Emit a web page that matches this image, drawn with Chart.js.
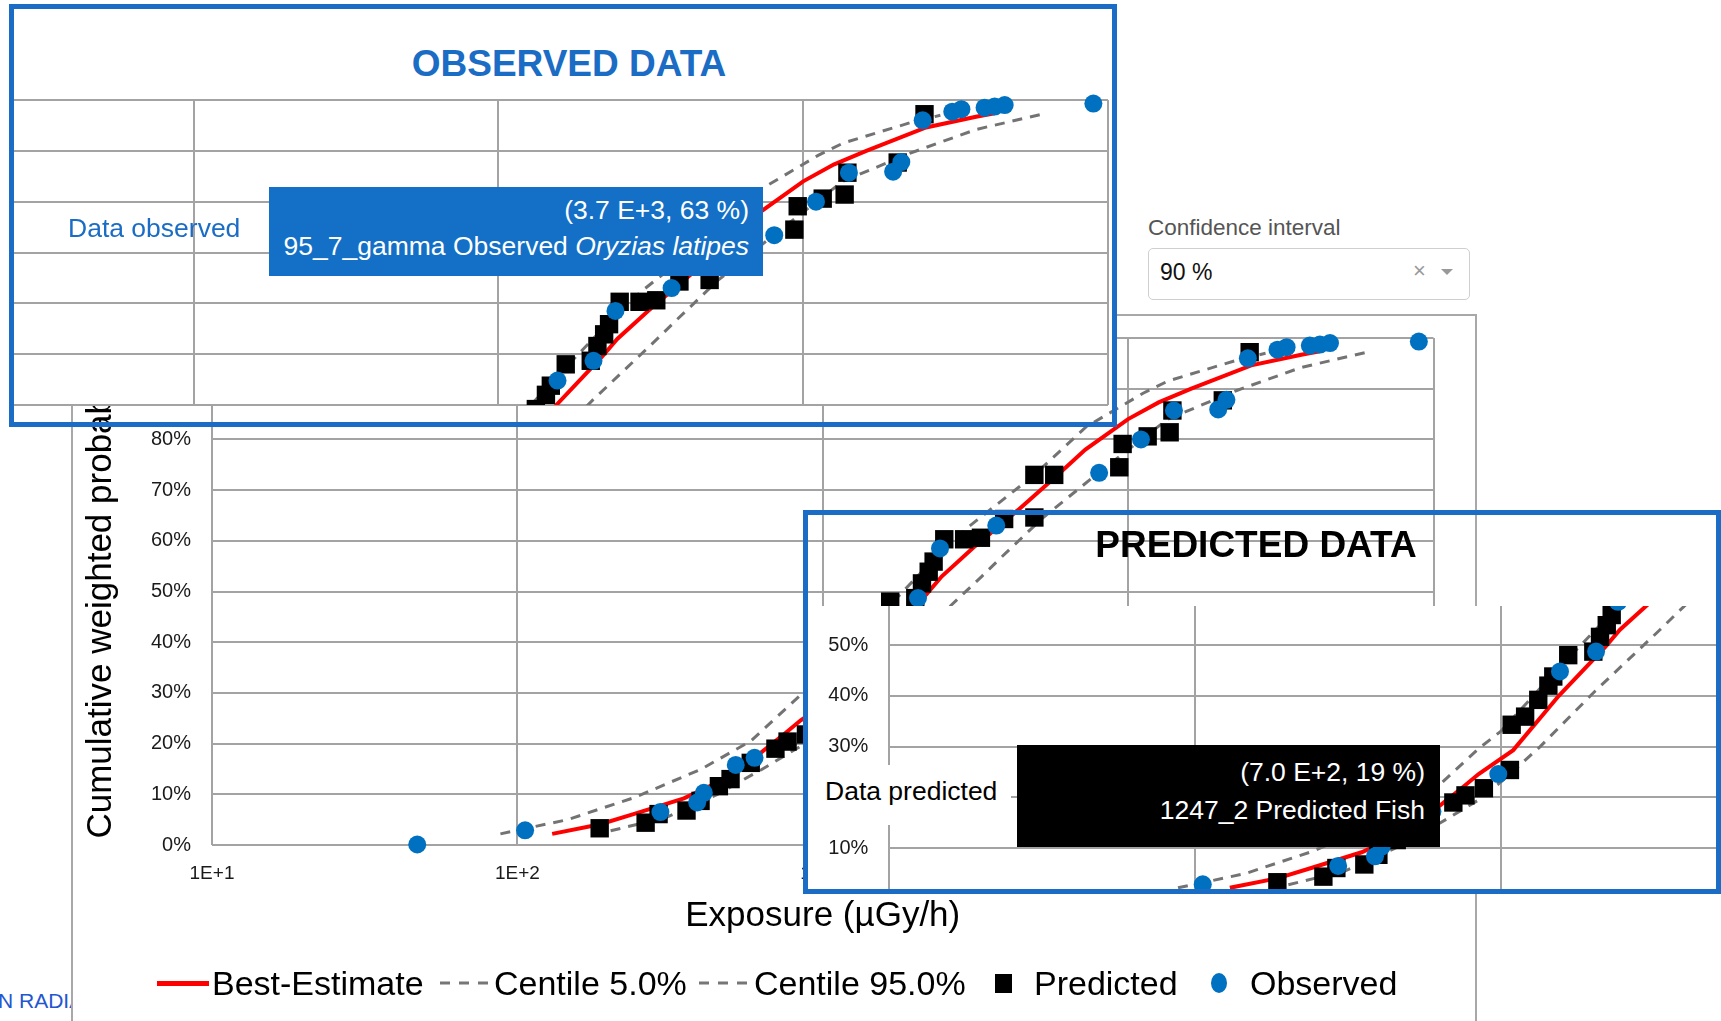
<!DOCTYPE html>
<html>
<head>
<meta charset="utf-8">
<script src="https://cdn.jsdelivr.net/npm/chart.js@4.4.1/dist/chart.umd.min.js"></script>
<style>
  html, body { margin: 0; padding: 0; background: #ffffff; }
  body { width: 1721px; height: 1021px; position: relative; overflow: hidden;
         font-family: "Liberation Sans", Arial, Helvetica, sans-serif; }
  .abs { position: absolute; }
  .t { position: absolute; white-space: nowrap; }
  canvas { position: absolute; }
</style>
</head>
<body>

<!-- fragment of page text at the far left -->
<div class="t" style="left:-2px;top:989px;font-size:21px;line-height:24px;color:#2356d0;z-index:0">N RADIATION</div>

<!-- main chart frame -->
<div class="abs" style="left:71px;top:314px;width:1406px;height:760px;border:2px solid #a8a8a8;box-sizing:border-box;background:#fff;z-index:1"></div>
<canvas id="mainChart" width="1404" height="706" style="left:72px;top:315px;z-index:2"></canvas>

<!-- legend (HTML) -->
<div class="abs" style="left:157px;top:981px;width:52px;height:5px;background:#ff0000;z-index:3"></div>
<div class="t" style="left:212px;top:963px;font-size:34px;line-height:40px;color:#000;z-index:3">Best-Estimate</div>
<svg class="abs" style="left:440px;top:980px;z-index:3" width="48" height="6"><line x1="0" y1="3" x2="48" y2="3" stroke="#767676" stroke-width="3" stroke-dasharray="10 9"/></svg>
<div class="t" style="left:494px;top:963px;font-size:34px;line-height:40px;color:#000;z-index:3">Centile 5.0%</div>
<svg class="abs" style="left:699px;top:980px;z-index:3" width="50" height="6"><line x1="0" y1="3" x2="50" y2="3" stroke="#767676" stroke-width="3" stroke-dasharray="10 9"/></svg>
<div class="t" style="left:754px;top:963px;font-size:34px;line-height:40px;color:#000;z-index:3">Centile 95.0%</div>
<div class="abs" style="left:995px;top:974px;width:17px;height:19px;background:#000;z-index:3"></div>
<div class="t" style="left:1034px;top:963px;font-size:34px;line-height:40px;color:#000;z-index:3">Predicted</div>
<div class="abs" style="left:1211px;top:973px;width:16px;height:20px;border-radius:50%;background:#0070c0;z-index:3"></div>
<div class="t" style="left:1250px;top:963px;font-size:34px;line-height:40px;color:#000;z-index:3">Observed</div>

<!-- confidence interval selector -->
<div class="t" style="left:1148px;top:214px;font-size:22.5px;line-height:28px;color:#555;z-index:3">Confidence interval</div>
<div class="abs" style="left:1148px;top:248px;width:322px;height:52px;border:1px solid #cfcfcf;border-radius:5px;box-sizing:border-box;background:#fff;z-index:3"></div>
<div class="t" style="left:1160px;top:258px;font-size:23px;line-height:28px;color:#111;z-index:4">90 %</div>
<div class="t" style="left:1413px;top:258px;font-size:22px;line-height:26px;color:#999;z-index:4">×</div>
<div class="abs" style="left:1441px;top:269px;width:0;height:0;border-left:6px solid transparent;border-right:6px solid transparent;border-top:6px solid #999;z-index:4"></div>

<!-- OBSERVED inset -->
<div class="abs" style="left:14px;top:9px;width:1098px;height:396px;background:#fff;z-index:5"></div>
<canvas id="obsChart" width="1098" height="317" style="left:14px;top:90px;z-index:6"></canvas>
<div class="t" style="left:569px;top:42px;transform:translateX(-50%);font-weight:bold;font-size:37px;line-height:44px;color:#1a6cc4;z-index:7">OBSERVED DATA</div>
<div class="t" style="left:68px;top:213px;font-size:26.5px;line-height:30px;color:#1a6cc4;z-index:7">Data observed</div>
<div class="abs" style="left:269px;top:187px;width:494px;height:89px;background:#1370c6;z-index:7">
  <div class="t" style="right:14px;top:8px;font-size:26.5px;line-height:30px;color:#fff">(3.7 E+3, 63 %)</div>
  <div class="t" style="right:14px;top:44px;font-size:26.5px;line-height:30px;color:#fff">95_7_gamma Observed <i>Oryzias latipes</i></div>
</div>
<div class="abs" style="left:9px;top:4px;width:1108px;height:423px;border:5px solid #1a6cc4;box-sizing:border-box;z-index:8"></div>

<!-- PREDICTED inset -->
<div class="abs" style="left:808px;top:606px;width:908px;height:283px;background:#fff;z-index:5"></div>
<canvas id="predChart" width="908" height="283" style="left:808px;top:606px;z-index:6"></canvas>
<div class="t" style="left:1256px;top:523px;transform:translateX(-50%);font-weight:bold;font-size:37px;line-height:44px;color:#000;z-index:7">PREDICTED DATA</div>
<div class="abs" style="left:808px;top:765px;width:203px;height:60px;background:#fff;z-index:7">
  <div class="t" style="left:17px;top:11px;font-size:26.5px;line-height:30px;color:#000">Data predicted</div>
</div>
<div class="abs" style="left:1017px;top:745px;width:423px;height:102px;background:#000;z-index:7">
  <div class="t" style="right:15px;top:12px;font-size:26.5px;line-height:30px;color:#fff">(7.0 E+2, 19 %)</div>
  <div class="t" style="right:15px;top:50px;font-size:26.5px;line-height:30px;color:#fff">1247_2 Predicted Fish</div>
</div>
<div class="abs" style="left:803px;top:510px;width:918px;height:384px;border:5px solid #1a6cc4;box-sizing:border-box;z-index:8"></div>

<script>
// ---------------- data (exposure in µGy/h, cumulative weighted probability in %) ----------------
const observedX = [47, 106, 294, 388, 408, 519, 598, 982, 1563, 2051, 2421, 3700, 8035, 11015, 14125, 19724, 20989, 24660, 30832, 33037, 39355, 42462, 45814, 89536];
const observedY = [0.1, 2.9, 6.5, 8.4, 10.3, 15.8, 17.2, 24.6, 44.8, 48.7, 58.5, 63.0, 73.4, 80.0, 85.7, 85.9, 87.8, 96.0, 97.7, 98.2, 98.5, 98.7, 99.0, 99.3];

const predictedX = [186, 263, 290, 358, 398, 457, 499, 581, 700, 767, 881, 1072, 1086, 1202, 1327, 1432, 1486, 1663, 2009, 2113, 2223, 2307, 2500, 2904, 3296, 3926, 4932, 4932, 5728, 9354, 9594, 11588, 13677, 13964, 20417, 25003];
const predictedY = [3.3, 4.4, 6.1, 6.8, 8.7, 11.6, 13.0, 16.2, 19.0, 20.4, 21.8, 25.4, 34.3, 35.9, 39.2, 42.0, 43.8, 48.0, 48.7, 51.6, 53.9, 55.9, 60.3, 60.3, 60.6, 64.3, 64.6, 73.0, 73.0, 74.5, 79.1, 80.6, 81.4, 85.7, 87.7, 97.2];

const bestX = [130, 187, 240, 351, 452, 581, 755, 847, 1099, 1549, 2188, 2455, 3162, 4345, 5754, 7244, 10000, 12589, 16106, 25293, 36898, 42462];
const bestY = [2.2, 4.1, 6.1, 9.2, 12.3, 16.6, 22.1, 24.6, 29.3, 40, 49.5, 53, 59, 66, 72.5, 78, 84, 87.3, 90, 94.6, 96.7, 97.4];

const c5X = [88, 146, 240, 398, 581, 847, 1000, 1524, 2455, 2979, 4932, 7295, 11194, 13490, 22336, 28184];
const c5Y = [2.2, 5.0, 9.3, 14.9, 20.5, 29.6, 33, 45, 58, 62.6, 73, 82.5, 89.1, 91.5, 95.5, 97];

const c95X = [202, 309, 452, 631, 847, 1047, 1346, 2042, 3319, 3837, 5248, 8147, 13490, 22336, 36898, 62661];
const c95Y = [2.8, 5.5, 10, 14.9, 19.5, 24, 30, 41, 53, 56.7, 64.5, 73.8, 84, 89.5, 94.2, 97.4];

const xTickValues = [10, 100, 1000, 10000, 100000];
const yTickValues = [0, 10, 20, 30, 40, 50, 60, 70, 80, 90, 100];

// ---------------- helpers ----------------
const FAMILY = "'Liberation Sans', Arial, Helvetica, sans-serif";
const GRID = '#a3a3a3';
const TICK = '#1a1a1a';
Chart.defaults.font.family = FAMILY;

function pts(xs, ys) { return xs.map((x, i) => ({ x: x, y: ys[i] })); }

function buildDatasets(clip) {
  return [
    { label: 'Best-Estimate', data: pts(bestX, bestY), showLine: true, borderColor: '#ff0000', backgroundColor: '#ff0000',
      borderWidth: 4, pointRadius: 0, fill: false, order: 3, clip: clip },
    { label: 'Centile 5.0%', data: pts(c5X, c5Y), showLine: true, borderColor: '#737373', backgroundColor: '#737373',
      borderWidth: 3, borderDash: [10, 8], pointRadius: 0, fill: false, order: 4, clip: clip },
    { label: 'Centile 95.0%', data: pts(c95X, c95Y), showLine: true, borderColor: '#737373', backgroundColor: '#737373',
      borderWidth: 3, borderDash: [10, 8], pointRadius: 0, fill: false, order: 5, clip: clip },
    { label: 'Predicted', data: pts(predictedX, predictedY), showLine: false, pointStyle: 'rect', pointRadius: 13,
      backgroundColor: '#000000', borderColor: '#000000', pointBorderWidth: 0, borderWidth: 0, order: 2, clip: clip },
    { label: 'Observed', data: pts(observedX, observedY), showLine: false, pointStyle: 'circle', pointRadius: 9,
      backgroundColor: '#0070c0', borderColor: '#0070c0', pointBorderWidth: 0, borderWidth: 0, order: 1, clip: clip }
  ];
}

function zeroPad(s) { s.paddingTop = 0; s.paddingBottom = 0; s.paddingLeft = 0; s.paddingRight = 0; }

function makeChart(id, c) {
  const xt = xTickValues.filter(v => v >= c.xMin * 0.999 && v <= c.xMax * 1.001);
  const yt = yTickValues.filter(v => v >= c.yMin - 1e-9 && v <= c.yMax + 1e-9);
  return new Chart(document.getElementById(id), {
    type: 'scatter',
    data: { datasets: buildDatasets(c.clip) },
    options: {
      responsive: false, maintainAspectRatio: false, animation: false, events: [], devicePixelRatio: 1,
      layout: { padding: c.padding, autoPadding: false },
      plugins: { legend: { display: false }, tooltip: { enabled: false }, title: { display: false } },
      scales: {
        x: {
          type: 'logarithmic', position: 'bottom', min: c.xMin, max: c.xMax,
          afterBuildTicks: s => { s.ticks = xt.map(v => ({ value: v })); },
          ticks: { display: c.showX, autoSkip: false, maxRotation: 0, minRotation: 0, padding: 17.6, color: TICK,
                   font: { size: 19, family: FAMILY },
                   callback: v => '1E+' + Math.round(Math.log10(v)) },
          grid: { color: GRID, lineWidth: 2, drawTicks: false },
          border: { display: false },
          title: c.titles ? { display: true, text: 'Exposure (µGy/h)', color: '#000', font: { size: 35, family: FAMILY },
                              padding: { top: 0, bottom: 84 } } : { display: false },
          afterFit: s => { s.height = c.xHeight; zeroPad(s); }
        },
        y: {
          type: 'linear', position: 'left', min: c.yMin, max: c.yMax,
          afterBuildTicks: s => { s.ticks = yt.map(v => ({ value: v })); },
          ticks: { display: c.showY, autoSkip: false, padding: 21, color: TICK, font: { size: 20, family: FAMILY },
                   callback: v => v + '%' },
          grid: { color: GRID, lineWidth: 2, drawTicks: false },
          border: { display: false },
          title: c.titles ? { display: true, text: 'Cumulative weighted probability', color: '#000',
                              font: { size: 35, family: FAMILY }, padding: { top: 8, bottom: 0 } } : { display: false },
          afterFit: s => { s.width = c.yWidth; zeroPad(s); }
        }
      }
    }
  });
}

// main chart
makeChart('mainChart', {
  xMin: 10, xMax: 100000, yMin: 0, yMax: 100,
  yWidth: 140, xHeight: 176, padding: { left: 0, right: 42.5, top: 23, bottom: 0 },
  showX: true, showY: true, titles: true, clip: false
});

// observed-data zoom inset (same scale, upper part of the curve)
makeChart('obsChart', {
  xMin: Math.pow(10, 5 - 1094 / 304.8), xMax: 100000, yMin: 40, yMax: 100,
  yWidth: 0, xHeight: 0, padding: { left: 0, right: 4, top: 10, bottom: 2 },
  showX: false, showY: false, titles: false, clip: { left: 0, top: false, right: false, bottom: 0 }
});

// predicted-data zoom inset (same scale, lower part of the curve)
makeChart('predChart', {
  xMin: 10, xMax: Math.pow(10, 1 + (908 - 81.3) / 305.7), yMin: 50 - 244 / 5.08, yMax: 50 + 39 / 5.08,
  yWidth: 81.3, xHeight: 0, padding: { left: 0, right: 0, top: 0, bottom: 0 },
  showX: false, showY: true, titles: false, clip: { left: false, top: 0, right: 0, bottom: 0 }
});
</script>
</body>
</html>
